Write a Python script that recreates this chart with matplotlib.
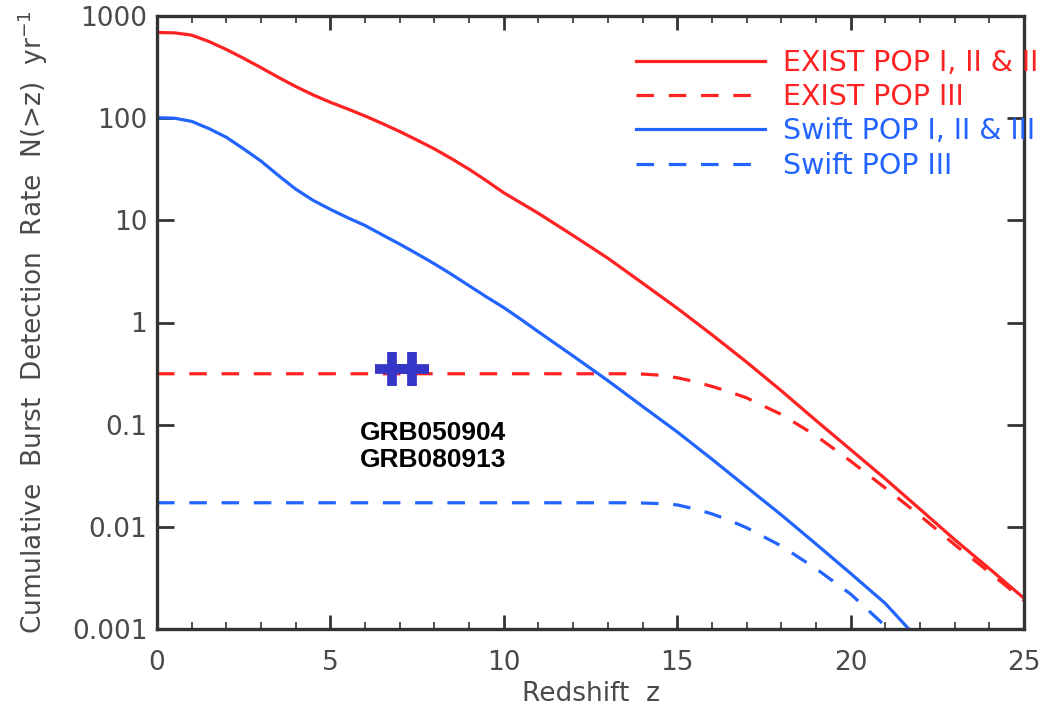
import numpy as np
import matplotlib
matplotlib.use("Agg")
import matplotlib.pyplot as plt
from matplotlib.ticker import MultipleLocator, NullLocator

# ---- data ----
z_exist_all = [0, 0.5, 1, 1.5, 2, 2.5, 3, 3.5, 4, 4.5, 5, 5.5, 6, 6.5, 7, 7.5, 8, 8.5, 9, 9.5, 10,
               11, 12, 13, 14, 15, 16, 17, 18, 19, 20, 21, 22, 23, 24, 25]
n_exist_all = [690, 684, 650, 562, 470, 385, 312, 251, 204, 169, 143, 123, 105, 88.5, 74, 61, 50, 40,
               31.6, 24.4, 18.6, 11.7, 7.1, 4.26, 2.43, 1.38, 0.76, 0.41, 0.215, 0.11, 0.057,
               0.0295, 0.0149, 0.0075, 0.0039, 0.0020]

z_exist_pop3 = [0, 4, 8, 12, 13.5, 14, 14.5, 15, 15.5, 16, 16.5, 17, 18, 19, 20, 21, 22, 23, 24, 25]
n_exist_pop3 = [0.315, 0.315, 0.315, 0.315, 0.315, 0.313, 0.305, 0.288, 0.264, 0.237, 0.21, 0.183,
                0.126, 0.078, 0.044, 0.024, 0.0129, 0.0067, 0.0036, 0.0019]

z_swift_all = [0, 0.5, 1, 1.5, 2, 2.5, 3, 3.5, 4, 4.5, 5, 5.5, 6, 6.5, 7, 7.5, 8, 8.5, 9, 9.5, 10,
               10.5, 11, 12, 13, 14, 15, 16, 17, 18, 19, 20, 21, 22]
n_swift_all = [101, 100, 93, 79, 65, 50, 38, 27.5, 20.2, 15.7, 12.8, 10.6, 8.9, 7.2, 5.85, 4.7, 3.75,
               2.95, 2.29, 1.78, 1.40, 1.07, 0.81, 0.47, 0.27, 0.151, 0.085, 0.046, 0.0245,
               0.0131, 0.0068, 0.0035, 0.00178, 0.00076]

z_swift_pop3 = [0, 4, 8, 12, 13.5, 14, 14.5, 15, 15.5, 16, 16.5, 17, 18, 19, 20, 21, 21.5]
n_swift_pop3 = [0.0172, 0.0172, 0.0172, 0.0172, 0.0172, 0.0171, 0.0169, 0.0164, 0.0150, 0.0134,
                0.0116, 0.0098, 0.0065, 0.0039, 0.0022, 0.00107, 0.0007]

grb_z = [6.77, 7.35]
grb_n = [0.35, 0.35]
grb_label = "GRB050904\nGRB080913"

legend_labels = ["EXIST POP I, II & III", "EXIST POP III", "Swift POP I, II & III", "Swift POP III"]
ytick_vals = [1e-3, 1e-2, 1e-1, 1, 10, 100, 1000]
ytick_labels = ["0.001", "0.01", "0.1", "1", "10", "100", "1000"]
xtick_vals = [0, 5, 10, 15, 20, 25]

# ---- styling ----
RED = "#ff2222"
BLUE = "#2264ff"
TXT = "#4a4a4a"
plt.rcParams['font.family'] = ['DejaVu Sans']

fig = plt.figure(figsize=(10.41, 7.11), dpi=100)
ax = fig.add_axes([157 / 1041, 1 - 629 / 711, (1024 - 157) / 1041, (629 - 16) / 711])

dash = (5.5, 4.6)
lw = 2.3
l1, = ax.plot(z_exist_all, n_exist_all, color=RED, lw=lw)
l2, = ax.plot(z_exist_pop3, n_exist_pop3, color=RED, lw=lw, dashes=dash)
l3, = ax.plot(z_swift_all, n_swift_all, color=BLUE, lw=lw)
l4, = ax.plot(z_swift_pop3, n_swift_pop3, color=BLUE, lw=lw, dashes=dash)

ax.plot(grb_z, grb_n, linestyle='none', marker='+', markersize=25, mew=7, color="#3535c8", zorder=5)
ax.text(7.95, 0.108, grb_label, ha='center', va='top', fontsize=19, fontweight='bold',
        family='Liberation Sans', color='black', linespacing=1.12)

ax.set_yscale('log')
ax.set_xlim(0, 25)
ax.set_ylim(1e-3, 1e3)
ax.set_yticks(ytick_vals)
ax.set_yticklabels(ytick_labels)
ax.yaxis.set_minor_locator(NullLocator())
ax.set_xticks(xtick_vals)
ax.set_xticklabels([str(v) for v in xtick_vals])
ax.xaxis.set_minor_locator(MultipleLocator(1))

ax.tick_params(axis='y', which='major', direction='in', length=12, width=2, color='#333333',
               labelsize=19, labelcolor=TXT, pad=7, right=True)
ax.tick_params(axis='x', which='major', direction='in', length=10, width=2, color='#333333',
               labelsize=19, labelcolor=TXT, pad=15, top=True)
ax.tick_params(axis='x', which='minor', direction='in', length=5, width=1.2, color='#333333', top=True)

for s in ax.spines.values():
    s.set_color('#333333')
    s.set_linewidth(2.4)

ax.set_xlabel("Redshift  z", fontsize=19, color=TXT, labelpad=4)
ax.set_ylabel(r"Cumulative  Burst  Detection  Rate  N(>z)  yr$^{-1}$", fontsize=19, color=TXT, labelpad=16)

leg = ax.legend([l1, l2, l3, l4], legend_labels, loc='upper left', bbox_to_anchor=(0.553, 0.9465),
                frameon=False, fontsize=20.5, handlelength=4.5, handletextpad=0.65,
                labelspacing=0.22, borderpad=0, borderaxespad=0)
for t, c in zip(leg.get_texts(), [RED, RED, BLUE, BLUE]):
    t.set_color(c)

fig.savefig("out.png", dpi=100)
